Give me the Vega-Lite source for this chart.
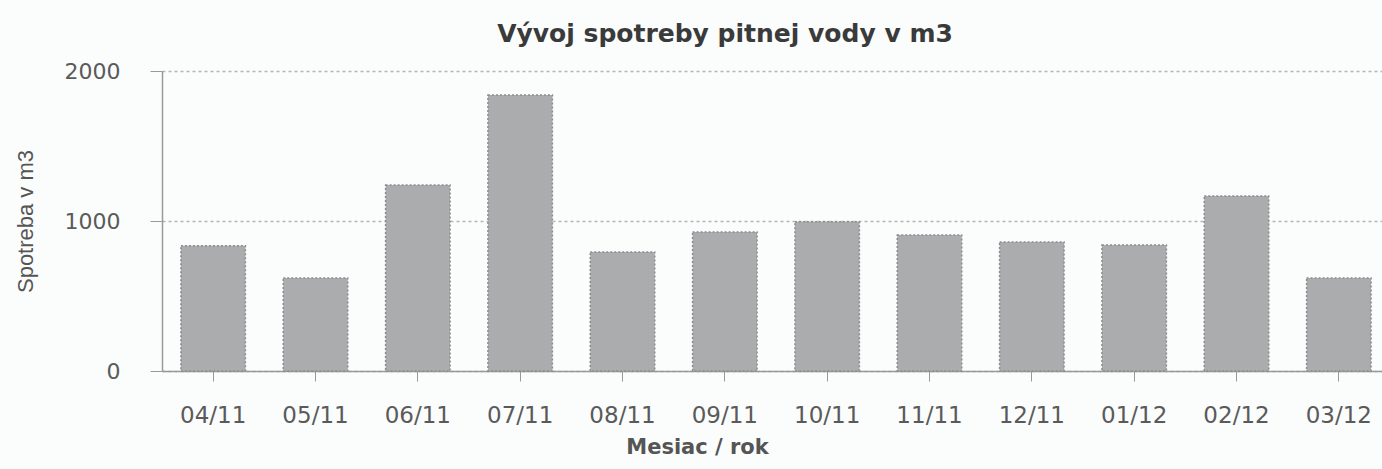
{
  "$schema": "https://vega.github.io/schema/vega-lite/v6.json",
  "autosize": {"type": "none"},
  "padding": {"left": 162, "top": 71, "right": 0, "bottom": 98},
  "width": 1228,
  "height": 300,
  "background": "#fbfcfc",
  "title": {
    "text": "Vývoj spotreby pitnej vody v m3",
    "font": "DejaVu Sans",
    "fontSize": 25,
    "fontWeight": "bold",
    "color": "#3a3a3a",
    "anchor": "middle",
    "dx": -51,
    "offset": 13
  },
  "data": {
    "values": [
      {"mesiac": "04/11", "spotreba": 835},
      {"mesiac": "05/11", "spotreba": 620},
      {"mesiac": "06/11", "spotreba": 1240},
      {"mesiac": "07/11", "spotreba": 1840},
      {"mesiac": "08/11", "spotreba": 793},
      {"mesiac": "09/11", "spotreba": 927},
      {"mesiac": "10/11", "spotreba": 995},
      {"mesiac": "11/11", "spotreba": 907},
      {"mesiac": "12/11", "spotreba": 860},
      {"mesiac": "01/12", "spotreba": 840},
      {"mesiac": "02/12", "spotreba": 1167},
      {"mesiac": "03/12", "spotreba": 620}
    ]
  },
  "mark": {"type": "bar", "fill": "#abacae", "stroke": "#8c8c8e", "strokeWidth": 1.5, "strokeDash": [2, 2]},
  "encoding": {
    "x": {
      "field": "mesiac",
      "type": "ordinal",
      "sort": null,
      "scale": {"paddingInner": 0.37, "paddingOuter": 0.185},
      "axis": {
        "title": "Mesiac / rok",
        "titleFont": "DejaVu Sans",
        "titleFontSize": 21,
        "titleFontWeight": "bold",
        "titleColor": "#555555",
        "titleX": 535,
        "titleY": 76,
        "titleBaseline": "middle",
        "labelAngle": 0,
        "labelFont": "DejaVu Sans",
        "labelFontSize": 23,
        "labelColor": "#5a5a5a",
        "labelPadding": 23,
        "tickSize": 10,
        "tickColor": "#999999",
        "domainColor": "#999999",
        "domainWidth": 1.5
      }
    },
    "y": {
      "field": "spotreba",
      "type": "quantitative",
      "scale": {"domain": [0, 2000]},
      "axis": {
        "title": "Spotreba v m3",
        "titleFont": "Liberation Sans",
        "titleFontSize": 22,
        "titleFontWeight": "normal",
        "titleColor": "#555555",
        "titleBaseline": "middle",
        "titleX": -137,
        "values": [0, 1000, 2000],
        "format": "d",
        "labelFont": "DejaVu Sans",
        "labelFontSize": 22,
        "labelColor": "#5a5a5a",
        "labelPadding": 30,
        "tickSize": 12,
        "tickColor": "#999999",
        "domainColor": "#999999",
        "domainWidth": 1.5,
        "grid": true,
        "gridColor": "#b5b5b5",
        "gridDash": [3, 3],
        "gridWidth": 1.5
      }
    }
  },
  "config": {"view": {"stroke": null}}
}
